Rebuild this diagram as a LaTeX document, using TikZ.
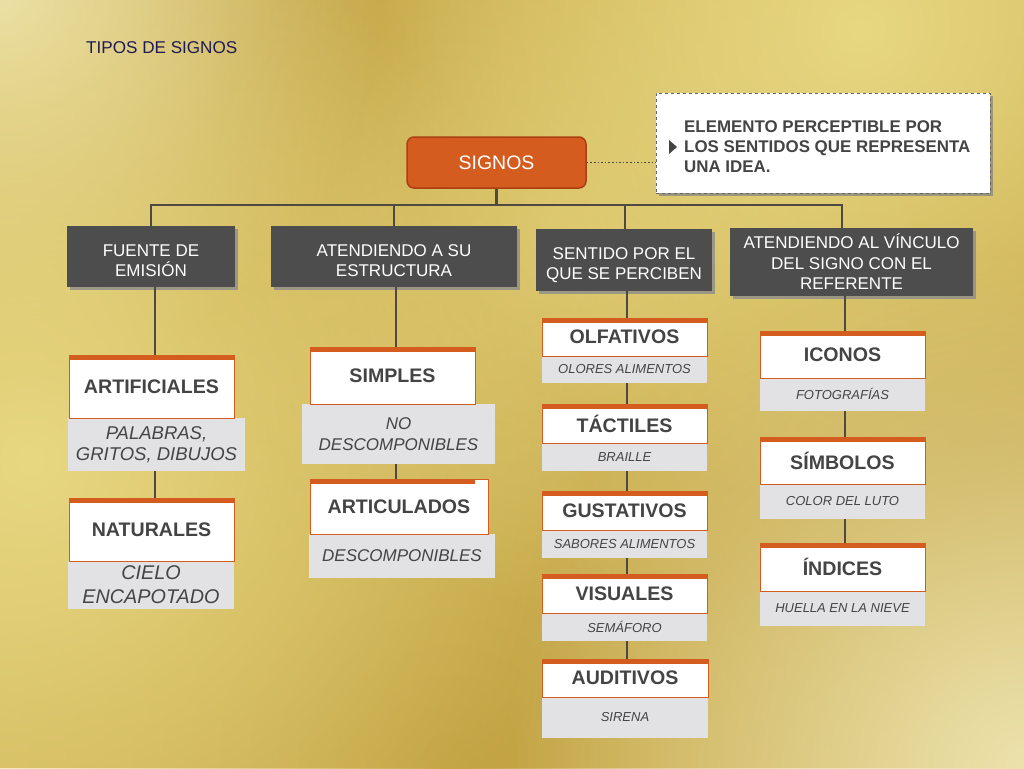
\documentclass[tikz,border=0pt]{standalone}
\usepackage{fontspec}
\setmainfont{Liberation Sans}
\usetikzlibrary{shadows,fadings,calc}
\definecolor{bgbase}{RGB}{206,178,85}
\definecolor{bgpale}{RGB}{236,226,172}
\definecolor{bglight}{RGB}{232,216,130}
\definecolor{bgdark}{RGB}{194,162,66}
\definecolor{orng}{RGB}{212,92,30}
\definecolor{orngdark}{RGB}{172,62,20}
\definecolor{hdrgray}{RGB}{77,77,77}
\definecolor{txtgray}{RGB}{68,68,68}
\definecolor{exgray}{RGB}{226,226,228}
\definecolor{linecol}{RGB}{78,74,66}
\definecolor{navy}{RGB}{30,26,84}
\tikzfading[name=softglow, inner color=transparent!0, outer color=transparent!100]
\begin{document}
\begin{tikzpicture}[x=1pt,y=-1pt,
  hdr/.style={fill=hdrgray, text=white, font=\fontsize{17}{20.5}\selectfont, align=center, inner sep=0pt,
    drop shadow={shadow xshift=3pt, shadow yshift=-3pt, fill=black!45, opacity=0.8}},
  namebox/.style={fill=white, draw=orng, line width=0.8pt, text=txtgray, font=\bfseries\fontsize{19.6}{22}\selectfont, inner sep=0pt,
    path picture={\fill[orng] (path picture bounding box.north west) rectangle ([yshift=-5pt]path picture bounding box.north east);}},
  exbox/.style={fill=exgray, text=txtgray, font=\itshape\fontsize{13}{16}\selectfont, align=center, inner sep=0pt},
  exbig/.style={exbox, font=\itshape\fontsize{17}{21}\selectfont},
  conn/.style={draw=linecol, line width=2.5pt},
]
\useasboundingbox (0,0) rectangle (1024,768);
% background
\begin{scope}
\clip (0,0) rectangle (1024,768);
\fill[bgbase] (0,0) rectangle (1024,768);
\fill[bgdark, path fading=softglow] (300,70) circle (460pt);
\fill[bgdark, path fading=softglow] (980,430) circle (420pt);
\fill[bgdark, path fading=softglow] (450,760) circle (460pt);
\fill[bgpale, path fading=softglow] (0,0) circle (380pt);
\fill[bglight, path fading=softglow] (30,460) circle (560pt);
\fill[bglight, path fading=softglow] (860,30) circle (480pt);
\fill[bglight, opacity=0.55, path fading=softglow] (560,230) circle (380pt);
\fill[bgpale, path fading=softglow] (1024,768) circle (520pt);
\end{scope}

% title
\node[anchor=west, text=navy, font=\fontsize{17.1}{20}\selectfont, inner sep=0pt] (title) at (86,48) {TIPOS DE SIGNOS};

% root
\node[fill=orng, draw=orngdark, line width=1.5pt, rounded corners=7pt, minimum width=179pt, minimum height=51pt,
  text=white, font=\fontsize{19.5}{22}\selectfont, inner sep=0pt] (signos) at (496.5,162.5) {SIGNOS};

% callout
\node[draw=gray!80!black, dashed, fill=white, minimum width=334pt, minimum height=100pt, inner sep=0pt,
  drop shadow={shadow xshift=3pt, shadow yshift=-3pt, fill=gray, opacity=0.7}] (callout) at (823,143) {};
\node[anchor=west, align=left, text=txtgray, font=\bfseries\fontsize{16.9}{20}\selectfont, inner sep=0pt] (ctext) at (684,147)
  {ELEMENTO PERCEPTIBLE POR\\LOS SENTIDOS QUE REPRESENTA\\UNA IDEA.};
\fill[txtgray] (669,140) -- (677,147) -- (669,154) -- cycle;
\draw[dotted, line width=1.6pt, draw=linecol] (signos.east) -- (signos.east -| callout.west);

% headers
\node[hdr, minimum width=168pt, minimum height=61pt] (h1) at (151,256.5) {\rule{0pt}{20pt}FUENTE DE\\EMISIÓN};
\node[hdr, minimum width=246pt, minimum height=61pt] (h2) at (394,256.5) {\rule{0pt}{20pt}ATENDIENDO A SU\\ESTRUCTURA};
\node[hdr, minimum width=176pt, minimum height=62pt] (h3) at (624,260) {\rule{0pt}{22.5pt}SENTIDO POR EL\\QUE SE PERCIBEN};
\node[hdr, minimum width=243pt, minimum height=68pt] (h4) at (851.5,262) {ATENDIENDO AL VÍNCULO\\DEL SIGNO CON EL\\REFERENTE};

% tree bus
\coordinate (bus) at (0,205);
\coordinate (t1) at (151,0);
\coordinate (t2) at (394,0);
\coordinate (t3) at (625,0);
\coordinate (t4) at (842,0);
\draw[conn] (signos.south) -- (signos.south |- bus);
\draw[conn] (h1.north -| t1) -- (t1 |- bus) -- (t4 |- bus) -- (h4.north -| t4);
\draw[conn] (t2 |- bus) -- (h2.north -| t2);
\draw[conn] (t3 |- bus) -- (h3.north -| t3);

% column x for lower connectors
\coordinate (c1) at (155,0);
\coordinate (c2) at (396,0);
\coordinate (c3) at (627,0);
\coordinate (c4) at (845,0);

% column 1
\node[exbox, font=\itshape\fontsize{18.5}{21}\selectfont, minimum width=177pt, minimum height=53pt] (artx) at (156.5,444.5) {PALABRAS,\\GRITOS, DIBUJOS};
\node[namebox, minimum width=165pt, minimum height=63pt] (art) at (151.5,386.5) {ARTIFICIALES};
\node[exbox, font=\itshape\fontsize{19.8}{24}\selectfont, minimum width=166pt, minimum height=48pt] (natx) at (151,585) {CIELO\\ENCAPOTADO};
\node[namebox, minimum width=165pt, minimum height=63pt] (nat) at (151.5,529.5) {NATURALES};
\draw[conn] (h1.south -| c1) -- (art.north -| c1);
\draw[conn] (artx.south -| c1) -- (nat.north -| c1);

% column 2
\node[exbig, minimum width=193pt, minimum height=60pt] (simx) at (398.5,434) {NO\\DESCOMPONIBLES};
\node[namebox, minimum width=165pt, minimum height=57pt] (sim) at (392.5,375.5) {SIMPLES};
\node[exbig, minimum width=186pt, minimum height=44pt] (artix) at (402,556) {DESCOMPONIBLES};
\node[namebox, minimum width=178pt, minimum height=55pt,
  path picture={\fill[orng] (path picture bounding box.north west) rectangle ([xshift=-13pt,yshift=-5pt]path picture bounding box.north east);}] (arti) at (399,506.5) {ARTICULADOS};
\draw[conn] (h2.south -| c2) -- (sim.north -| c2);
\draw[conn] (simx.south -| c2) -- (arti.north -| c2);

% column 3
\node[exbox, minimum width=165pt, minimum height=27pt] (olfx) at (624.5,369.5) {OLORES ALIMENTOS};
\node[namebox, minimum width=165pt, minimum height=38pt] (olf) at (624.5,337) {OLFATIVOS};
\node[exbox, minimum width=165pt, minimum height=28pt] (tacx) at (624.5,457) {BRAILLE};
\node[namebox, minimum width=165pt, minimum height=39pt] (tac) at (624.5,423.5) {TÁCTILES};
\node[exbox, minimum width=165pt, minimum height=28pt] (gusx) at (624.5,544) {SABORES ALIMENTOS};
\node[namebox, minimum width=165pt, minimum height=39pt] (gus) at (624.5,510.5) {GUSTATIVOS};
\node[exbox, minimum width=165pt, minimum height=28pt] (visx) at (624.5,627) {SEMÁFORO};
\node[namebox, minimum width=165pt, minimum height=39pt] (vis) at (624.5,593.5) {VISUALES};
\node[exbox, minimum width=166pt, minimum height=41pt] (audx) at (625,717.5) {SIRENA};
\node[namebox, minimum width=166pt, minimum height=38pt] (aud) at (625,678) {AUDITIVOS};
\draw[conn] (h3.south -| c3) -- (olf.north -| c3);
\draw[conn] (olfx.south -| c3) -- (tac.north -| c3);
\draw[conn] (tacx.south -| c3) -- (gus.north -| c3);
\draw[conn] (gusx.south -| c3) -- (vis.north -| c3);
\draw[conn] (visx.south -| c3) -- (aud.north -| c3);

% column 4
\node[exbox, minimum width=165pt, minimum height=34pt] (icox) at (842.5,394) {FOTOGRAFÍAS};
\node[namebox, minimum width=165pt, minimum height=47pt] (ico) at (842.5,354.5) {ICONOS};
\node[exbox, minimum width=165pt, minimum height=35pt] (symx) at (842.5,501.5) {COLOR DEL LUTO};
\node[namebox, minimum width=165pt, minimum height=47pt] (sym) at (842.5,460.5) {SÍMBOLOS};
\node[exbox, minimum width=165pt, minimum height=35pt] (indx) at (842.5,608.5) {HUELLA EN LA NIEVE};
\node[namebox, minimum width=165pt, minimum height=48pt] (ind) at (842.5,567) {ÍNDICES};
\draw[conn] (h4.south -| c4) -- (ico.north -| c4);
\draw[conn] (icox.south -| c4) -- (sym.north -| c4);
\draw[conn] (symx.south -| c4) -- (ind.north -| c4);
\end{tikzpicture}
\end{document}
